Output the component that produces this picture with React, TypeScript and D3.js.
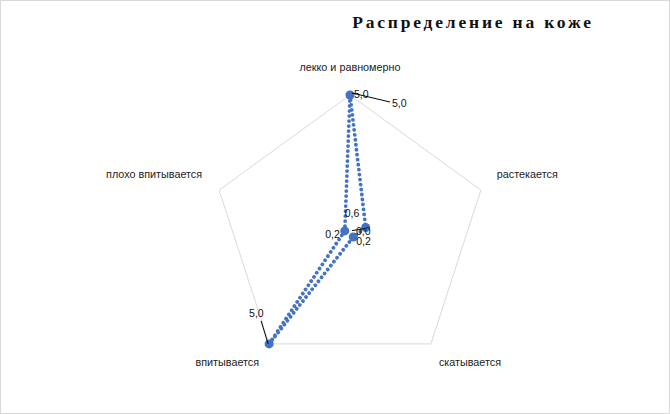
import React from "react";
import * as d3 from "d3";

const title = "Распределение на коже";
const categories = ["лекко и равномерно", "растекается", "скатывается", "впитывается", "плохо впитывается"];
const seriesValues = [5.0, 0.6, 0.2, 5.0, 0.2];
// second series: only its data labels are visible
const secondValues = [5.0, 0.0, null, 5.0, null];
const axisMax = 5;

const W = 670, H = 414;
const cx = 350, cy = 232.6, R = 137.6;
const blue = "#4472C4";

// label offsets (relative to point) for main series [dx, dy, anchor]
const mainLabelOffsets: ([number, number, string] | null)[] = [
  [4, 3, "start"],
  [-21, -10, "start"],
  [3, 8, "start"],
  null,
  [-5, 7, "end"],
];
// second series labels: [dx, dy, anchor, leader]
const secondLabelOffsets: ([number, number, string, boolean] | null)[] = [
  [42, 12, "start", true],
  [6, 2, "start", true],
  null,
  [-20, -27, "start", true],
  null,
];

const fmt = (v: number) => v.toFixed(1).replace(".", ",");

export default function App() {
  const n = categories.length;
  const angle = (i: number) => (i * 2 * Math.PI) / n;
  const r = d3.scaleLinear().domain([0, axisMax]).range([0, R]);
  const pt = (i: number, v: number): [number, number] => [
    cx + r(v) * Math.sin(angle(i)),
    cy - r(v) * Math.cos(angle(i)),
  ];
  const outer = categories.map((_, i) => pt(i, axisMax));
  const pts = seriesValues.map((v, i) => pt(i, v));
  const line = d3.line().curve(d3.curveLinearClosed);

  const catPos: [number, number, string][] = [
    [0, -24, "middle"],
    [16, -12, "start"],
    [8, 22, "start"],
    [-10, 22, "end"],
    [-17, -12, "end"],
  ];

  return (
    <svg width={W} height={H} style={{ position: "fixed", left: 0, top: 0, background: "#fff" }}
      fontFamily="'Liberation Sans', Arial, sans-serif">
      <rect x={0.5} y={0.5} width={W - 1} height={H - 1} fill="#fff" stroke="#d9d9d9" />
      <text x={473} y={28} textAnchor="middle" fontFamily="'Liberation Serif', serif" fontWeight="bold"
        fontSize={17.5} letterSpacing={2.8} fill="#111">{title}</text>
      <path d={line(outer) || ""} fill="none" stroke="#d9d9d9" strokeWidth={1} />
      {categories.map((c, i) => {
        const [x, y] = outer[i];
        const [dx, dy, a] = catPos[i];
        return (
          <text key={c} x={x + dx} y={y + dy} textAnchor={a} fontSize={10.8} fill="#222">{c}</text>
        );
      })}
      <path d={line(pts) || ""} fill="none" stroke={blue} strokeWidth={3.8}
        strokeDasharray="0.01 5" strokeLinecap="round" />
      {pts.map(([x, y], i) => (
        <circle key={i} cx={x} cy={y} r={4.5} fill={blue} />
      ))}
      {seriesValues.map((v, i) => {
        const o = mainLabelOffsets[i];
        if (!o) return null;
        const [x, y] = pts[i];
        return (
          <text key={"m" + i} x={x + o[0]} y={y + o[1]} textAnchor={o[2]} fontSize={10.5} fill="#111">{fmt(v)}</text>
        );
      })}
      {secondValues.map((v, i) => {
        const o = secondLabelOffsets[i];
        if (v === null || !o) return null;
        const [x, y] = pt(i, v);
        const lx = x + o[0], ly = y + o[1];
        return (
          <g key={"s" + i}>
            {o[3] && (
              <line x1={x + (o[0] > 0 ? 2 : -1)} y1={y + (o[1] > 0 ? -2 : 0)} x2={o[0] > 10 ? lx - 2 : o[0] < 0 ? lx + 12 : lx + 9}
                y2={o[1] > 10 ? ly - 5 : o[1] < 0 ? ly + 4 : ly - 6}
                stroke="#000" strokeWidth={1} />
            )}
            <text x={lx} y={ly} textAnchor={o[2]} fontSize={10.5} fill="#111">{fmt(v)}</text>
          </g>
        );
      })}
    </svg>
  );
}
